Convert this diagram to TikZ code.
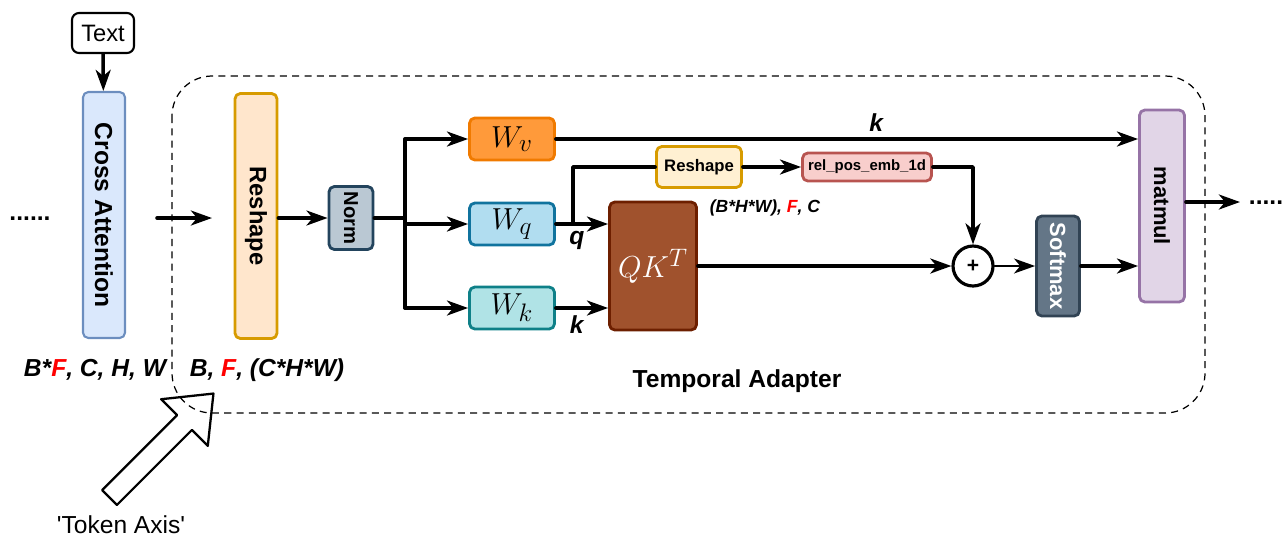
\documentclass[tikz,border=0pt]{standalone}
\usepackage{fontspec}
\setmainfont{Liberation Sans}
\usepackage{graphicx}
\usetikzlibrary{arrows.meta}

\definecolor{caFill}{HTML}{DAE8FC}
\definecolor{caLine}{HTML}{6C8EBF}
\definecolor{rsFill}{HTML}{FFE6CC}
\definecolor{rsLine}{HTML}{D79B00}
\definecolor{nmFill}{HTML}{BAC8D3}
\definecolor{nmLine}{HTML}{23445D}
\definecolor{wvFill}{HTML}{FF9A3A}
\definecolor{wvLine}{HTML}{F07A00}
\definecolor{wqFill}{HTML}{B1DDF0}
\definecolor{wqLine}{HTML}{10739E}
\definecolor{wkFill}{HTML}{B0E3E6}
\definecolor{wkLine}{HTML}{0E8088}
\definecolor{qkFill}{HTML}{A0522D}
\definecolor{qkLine}{HTML}{6D1F00}
\definecolor{r2Fill}{HTML}{FFF0D2}
\definecolor{r2Line}{HTML}{D79B00}
\definecolor{reFill}{HTML}{F8CECC}
\definecolor{reLine}{HTML}{B85450}
\definecolor{smFill}{HTML}{647687}
\definecolor{smLine}{HTML}{314354}
\definecolor{mmFill}{HTML}{E1D5E7}
\definecolor{mmLine}{HTML}{9673A6}

\tikzset{
  box/.style={draw, rounded corners=3pt, line width=1.6pt, inner sep=0pt, align=center},
  arr/.style={line width=2pt, -{Stealth[length=12pt,width=8.5pt,inset=3.5pt]}},
  lab/.style={font=\fontsize{14}{16}\selectfont\bfseries\itshape},
}

\begin{document}
\begin{tikzpicture}[line cap=round,line join=round,x=0.02cm,y=-0.02cm]
\useasboundingbox (0,0) rectangle (1283,539);
\draw[line width=0.7pt, line cap=butt, dash pattern=on 4pt off 3pt, rounded corners=0.8cm] (172,76) rectangle (1205,413);

\node[box, line width=1.2pt, rounded corners=4pt, minimum width=1.24cm, minimum height=0.8cm, font=\fontsize{13.5}{15}\selectfont] (txt) at (103,33) {Text};
\node[box, line width=1.2pt, draw=caLine, fill=caFill, minimum width=0.84cm, minimum height=4.92cm, font=\fontsize{14}{16}\selectfont\bfseries] (cross) at (104,215) {\rotatebox{-90}{Cross Attention}};
\node[font=\fontsize{14}{16}\selectfont\bfseries] (dotsL) at (30,219) {......};
\coordinate (inS) at (157,218);
\coordinate (inE) at (212,218);
\node[box, draw=rsLine, fill=rsFill, minimum width=0.84cm, minimum height=4.9cm, font=\fontsize{13.5}{15}\selectfont\bfseries] (resh) at (256,216) {\rotatebox{-90}{Reshape}};
\node[box, draw=nmLine, fill=nmFill, minimum width=0.88cm, minimum height=1.26cm, font=\fontsize{11.5}{12}\selectfont\bfseries] (norm) at (351,218) {\rotatebox{-90}{Norm}};
\coordinate (split) at (405,218);
\node[box, draw=wvLine, fill=wvFill, minimum width=1.7cm, minimum height=0.84cm, font=\fontsize{19}{21}\selectfont] (wv) at (512,139) {$W_v$};
\node[box, draw=wqLine, fill=wqFill, minimum width=1.7cm, minimum height=0.84cm, font=\fontsize{19}{21}\selectfont] (wq) at (512,224) {$W_q$};
\node[box, draw=wkLine, fill=wkFill, minimum width=1.7cm, minimum height=0.84cm, font=\fontsize{19}{21}\selectfont] (wk) at (512,308) {$W_k$};
\node[box, draw=qkLine, fill=qkFill, text=white, minimum width=1.74cm, minimum height=2.56cm, font=\fontsize{19}{21}\selectfont] (qk) at (653,266) {$QK^T$};
\coordinate (qbr) at (573,224);
\node[box, draw=r2Line, fill=r2Fill, minimum width=1.7cm, minimum height=0.82cm, font=\fontsize{9.5}{11}\selectfont\bfseries] (resh2) at (699,167) {Reshape};
\node[box, draw=reLine, fill=reFill, minimum width=2.58cm, minimum height=0.56cm, font=\fontsize{8.5}{10}\selectfont\bfseries] (rel) at (867,167) {rel\_pos\_emb\_1d};
\node[draw, circle, line width=1.8pt, minimum size=0.8cm, inner sep=0pt, font=\fontsize{12}{14}\selectfont\bfseries] (plus) at (973,266) {+};
\node[box, draw=smLine, fill=smFill, text=white, minimum width=0.86cm, minimum height=2cm, font=\fontsize{12.5}{14}\selectfont\bfseries] (soft) at (1058,266) {\rotatebox{-90}{Softmax}};
\node[box, draw=mmLine, fill=mmFill, minimum width=0.9cm, minimum height=3.84cm, font=\fontsize{12.5}{14}\selectfont\bfseries] (matmul) at (1162,206) {\rotatebox{-90}{matmul}};
\coordinate (out) at (1240,202);
\node[font=\fontsize{14}{16}\selectfont\bfseries] (dotsR) at (1266,203) {.....};

\node[lab] (dimA) at (95,370) {B*\textcolor{red}{F}, C, H, W};
\node[lab] (dimB) at (267,370) {B, \textcolor{red}{F}, (C*H*W)};
\node[lab, font=\fontsize{10}{12}\selectfont\bfseries\itshape] (dimC) at (765,208) {(B*H*W), \textcolor{red}{F}, C};
\node[font=\fontsize{14}{16}\selectfont\bfseries] (tadapt) at (737,381) {Temporal Adapter};
\node[font=\fontsize{14}{16}\selectfont] (token) at (121,525) {\textquotesingle Token Axis\textquotesingle};

\draw[arr] (txt) -- (cross);
\draw[arr] (inS) -- (inE);
\draw[arr] (resh.east |- norm) -- (norm);
\draw[line width=2pt] (norm.east) -- (split);
\draw[line width=2pt] (split |- wv) -- (split |- wk);
\draw[arr] (split |- wv) -- (wv);
\draw[arr] (split |- wq) -- (wq);
\draw[arr] (split |- wk) -- (wk);
\draw[arr] (wq) -- (qk.west |- wq) node[lab, pos=0.4, below] {q};
\draw[arr] (wk) -- (qk.west |- wk) node[lab, pos=0.4, below] {k};
\draw[line width=2pt] (qbr) |- (resh2);
\draw[arr] (resh2) -- (rel);
\draw[arr] (rel) -| (plus);
\draw[arr] (qk) -- (plus);
\draw[line width=1pt, -{Stealth[length=12pt,width=8.5pt,inset=3.5pt]}] (plus) -- (soft);
\draw[arr] (soft) -- (matmul.west |- soft);
\draw[arr] (wv) -- (matmul.west |- wv) node[lab, pos=0.55, above] {k};
\draw[arr] (matmul.east |- out) -- (out);

\draw[line width=1.3pt, shift={(109.5,497.5)}, rotate=45] (0,-10.5) -- (106,-10.5) -- (106,-33) -- (147,0) -- (106,33) -- (106,10.5) -- (0,10.5) -- cycle;
\end{tikzpicture}
\end{document}
